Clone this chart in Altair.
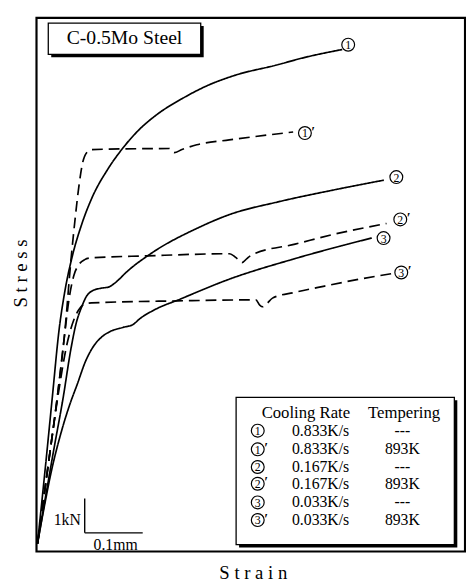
import altair as alt
import pandas as pd

# ---------------- data (strain in mm, stress in kN) ----------------
c1_strain = [0, 0.0153, 0.0254, 0.0373, 0.0475, 0.0593, 0.0763, 0.0932, 0.122, 0.1475, 0.1729, 0.2068, 0.2492, 0.2915, 0.3424, 0.4102, 0.461, 0.5254]
c1_stress = [0, 2.51, 4.23, 6.23, 7.37, 8.31, 9.29, 10.03, 10.91, 11.51, 12.0, 12.49, 12.94, 13.31, 13.63, 13.91, 14.14, 14.37]

c1p_strain = [0, 0.0203, 0.0339, 0.0475, 0.0576, 0.0644, 0.0712, 0.078, 0.0847, 0.0932, 0.227, 0.2356, 0.249, 0.2746, 0.3305, 0.4407]
c1p_stress = [0, 2.51, 4.23, 6.23, 8.23, 9.37, 10.37, 11.09, 11.37, 11.46, 11.49, 11.37, 11.46, 11.6, 11.74, 11.97]

c2_strain = [0, 0.0288, 0.0441, 0.0576, 0.0661, 0.0763, 0.0847, 0.0932, 0.110, 0.122, 0.139, 0.151, 0.195, 0.275, 0.331, 0.415, 0.512, 0.597]
c2_stress = [0, 2.8, 4.23, 5.66, 6.37, 6.89, 7.2, 7.34, 7.43, 7.46, 7.66, 7.86, 8.43, 9.17, 9.57, 9.94, 10.29, 10.57]

c2p_strain = [0, 0.0203, 0.0339, 0.0458, 0.0542, 0.0627, 0.0712, 0.0814, 0.0915, 0.19, 0.3305, 0.3441, 0.3525, 0.361, 0.3695, 0.4441, 0.5119, 0.6017]
c2p_stress = [0, 2.51, 4.23, 5.94, 7.09, 7.8, 8.11, 8.26, 8.31, 8.37, 8.43, 8.29, 8.17, 8.29, 8.4, 8.71, 9.0, 9.31]

c3_strain = [0, 0.0102, 0.0237, 0.0407, 0.0576, 0.0678, 0.083, 0.0966, 0.11, 0.1254, 0.1475, 0.1644, 0.1763, 0.2017, 0.2458, 0.3305, 0.4441, 0.5763]
c3_stress = [0, 0.94, 2.09, 3.23, 4.14, 4.6, 5.31, 5.74, 6.0, 6.17, 6.29, 6.37, 6.54, 6.8, 7.11, 7.69, 8.29, 8.89]

c3p_strain = [0, 0.0203, 0.0373, 0.0508, 0.0627, 0.0712, 0.0814, 0.0932, 0.2424, 0.3763, 0.3831, 0.3881, 0.3949, 0.4051, 0.4441, 0.4949, 0.5542, 0.6136]
c3p_stress = [0, 2.51, 4.51, 5.8, 6.51, 6.8, 6.97, 7.0, 7.06, 7.09, 6.94, 6.89, 6.97, 7.14, 7.31, 7.49, 7.69, 7.86]

curve_names = ["1", "1'", "2", "2'", "3", "3'"]
curve_digits = ["1", "1", "2", "2", "3", "3"]
curve_primes = ["", "′", "", "′", "", "′"]
curve_styles = ["solid", "dashed", "solid", "dashed", "solid", "dashed"]
curve_x = [c1_strain, c1p_strain, c2_strain, c2p_strain, c3_strain, c3p_strain]
curve_y = [c1_stress, c1p_stress, c2_stress, c2p_stress, c3_stress, c3p_stress]

# circled end-of-curve label centres
label_x = [0.5356, 0.4610, 0.6186, 0.6254, 0.5966, 0.6271]
label_y = [14.51, 11.94, 10.66, 9.43, 8.886, 7.886]

cooling_rates = ["0.833K/s", "0.833K/s", "0.167K/s", "0.167K/s", "0.033K/s", "0.033K/s"]
tempering = ["---", "893K", "---", "893K", "---", "893K"]
legend_row_y = [3.286, 2.743, 2.229, 1.743, 1.2, 0.686]
legend_sym_x = 0.3797

X_DOM = [-0.0017, 0.737]
Y_DOM = [-0.229, 15.29]

# ---------------- build tables ----------------
rows = []
for name, style, xs, ys in zip(curve_names, curve_styles, curve_x, curve_y):
    for i, (a, b) in enumerate(zip(xs, ys)):
        rows.append({"curve": name, "style": style, "order": i, "strain": a, "stress": b})
df = pd.DataFrame(rows)

xsc = alt.Scale(domain=X_DOM, nice=False, zero=False)
ysc = alt.Scale(domain=Y_DOM, nice=False, zero=False)


def X(f):
    return alt.X(f, type="quantitative", scale=xsc, axis=None)


def Y(f):
    return alt.Y(f, type="quantitative", scale=ysc, axis=None)


lines = alt.Chart(df).mark_line(color="black", strokeWidth=1.7, interpolate="monotone").encode(
    x=X("strain"),
    y=Y("stress"),
    detail="curve:N",
    order="order:Q",
    strokeDash=alt.StrokeDash(
        "style:N",
        scale=alt.Scale(domain=["solid", "dashed"], range=[[1, 0], [11, 6]]),
        legend=None,
    ),
)

# circled symbols (on curves and in the legend)
sym_rows = []
for d, p, x, y in zip(curve_digits, curve_primes, label_x, label_y):
    sym_rows.append({"d": d, "p": p, "x": x, "y": y})
for d, p, y in zip(curve_digits, curve_primes, legend_row_y):
    sym_rows.append({"d": d, "p": p, "x": legend_sym_x, "y": y})
sym_df = pd.DataFrame(sym_rows)

sym_circles = alt.Chart(sym_df).mark_point(
    shape="circle", size=170, filled=False, stroke="black", strokeWidth=1.2, opacity=1
).encode(x=X("x"), y=Y("y"))
sym_digits = alt.Chart(sym_df).mark_text(
    font="Liberation Serif", fontSize=12, align="center", baseline="middle", color="black", dy=0.5
).encode(x=X("x"), y=Y("y"), text="d:N")
sym_primes = alt.Chart(sym_df).mark_text(
    font="Liberation Serif", fontSize=14, fontWeight="bold", align="center", baseline="middle",
    color="black", dx=8.5, dy=-0.5
).encode(x=X("x"), y=Y("y"), text="p:N")

# title box
tb = pd.DataFrame({"x": [0.0186], "x2": [0.2814], "y": [15.14], "y2": [14.23]})
tb_sh = pd.DataFrame({"x": [0.0237], "x2": [0.2865], "y": [15.054], "y2": [14.144]})
title_shadow = alt.Chart(tb_sh).mark_rect(fill="black").encode(
    x=X("x"), x2="x2", y=Y("y"), y2="y2")
title_box = alt.Chart(tb).mark_rect(fill="white", stroke="black", strokeWidth=1.3).encode(
    x=X("x"), x2="x2", y=Y("y"), y2="y2")
title_txt = alt.Chart(pd.DataFrame({"t": ["C-0.5Mo Steel"], "x": [0.150], "y": [14.69]})).mark_text(
    font="Liberation Serif", fontSize=20, baseline="middle", align="center", color="black"
).encode(x=X("x"), y=Y("y"), text="t:N")

# legend box
lb = pd.DataFrame({"x": [0.3424], "x2": [0.7186], "y": [4.257], "y2": [-0.0286]})
lb_sh = pd.DataFrame({"x": [0.3475], "x2": [0.7237], "y": [4.171], "y2": [-0.1143]})
leg_shadow = alt.Chart(lb_sh).mark_rect(fill="black").encode(
    x=X("x"), x2="x2", y=Y("y"), y2="y2")
leg_box = alt.Chart(lb).mark_rect(fill="white", stroke="black", strokeWidth=1.3).encode(
    x=X("x"), x2="x2", y=Y("y"), y2="y2")

hdr = pd.DataFrame({"t": ["Cooling Rate", "Tempering"], "x": [0.4627, 0.632], "y": [3.8, 3.8]})
leg_hdr = alt.Chart(hdr).mark_text(
    font="Liberation Serif", fontSize=17, baseline="middle", align="center", color="black"
).encode(x=X("x"), y=Y("y"), text="t:N")

cr_df = pd.DataFrame({"t": cooling_rates, "x": [0.488] * 6, "y": legend_row_y})
leg_cr = alt.Chart(cr_df).mark_text(
    font="Liberation Serif", fontSize=16, baseline="middle", align="center", color="black"
).encode(x=X("x"), y=Y("y"), text="t:N")

tp_df = pd.DataFrame({"t": tempering, "x": [0.629] * 6, "y": legend_row_y})
leg_tp = alt.Chart(tp_df).mark_text(
    font="Liberation Serif", fontSize=16, baseline="middle", align="center", color="black"
).encode(x=X("x"), y=Y("y"), text="t:N")

# scale bar (1 kN, 0.1 mm)
sb = pd.DataFrame({"x": [0.0814, 0.0814], "x2": [0.0814, 0.1814], "y": [1.314, 0.314], "y2": [0.314, 0.314]})
scale_bar = alt.Chart(sb).mark_rule(color="black", strokeWidth=1.4).encode(
    x=X("x"), x2="x2", y=Y("y"), y2="y2")
sb_txt1 = alt.Chart(pd.DataFrame({"t": ["1kN"], "x": [0.0746], "y": [0.55]})).mark_text(
    font="Liberation Serif", fontSize=16, align="right", baseline="alphabetic", color="black"
).encode(x=X("x"), y=Y("y"), text="t:N")
sb_txt2 = alt.Chart(pd.DataFrame({"t": ["0.1mm"], "x": [0.1347], "y": [-0.19]})).mark_text(
    font="Liberation Serif", fontSize=16, align="center", baseline="alphabetic", color="black"
).encode(x=X("x"), y=Y("y"), text="t:N")

# axis titles
ax_y = alt.Chart(pd.DataFrame({"t": ["S t r e s s"], "x": [-0.0288], "y": [7.857]})).mark_text(
    font="Liberation Serif", fontSize=19, angle=270, align="center", baseline="middle", color="black"
).encode(x=X("x"), y=Y("y"), text="t:N")
ax_x = alt.Chart(pd.DataFrame({"t": ["S t r a i n"], "x": [0.372], "y": [-0.85]})).mark_text(
    font="Liberation Serif", fontSize=19, align="center", baseline="middle", color="black"
).encode(x=X("x"), y=Y("y"), text="t:N")

chart = alt.layer(
    lines,
    title_shadow, title_box, title_txt,
    leg_shadow, leg_box, leg_hdr, leg_cr, leg_tp,
    sym_circles, sym_digits, sym_primes,
    scale_bar, sb_txt1, sb_txt2,
    ax_y, ax_x,
).properties(
    width=436, height=543,
    autosize=alt.AutoSizeParams(type="none"),
    padding={"left": 29, "top": 5, "right": 1, "bottom": 28},
    background="white",
).configure_view(stroke="black", strokeWidth=2.2)

chart.save("out.html", embed_options={"renderer": "svg", "actions": False})
